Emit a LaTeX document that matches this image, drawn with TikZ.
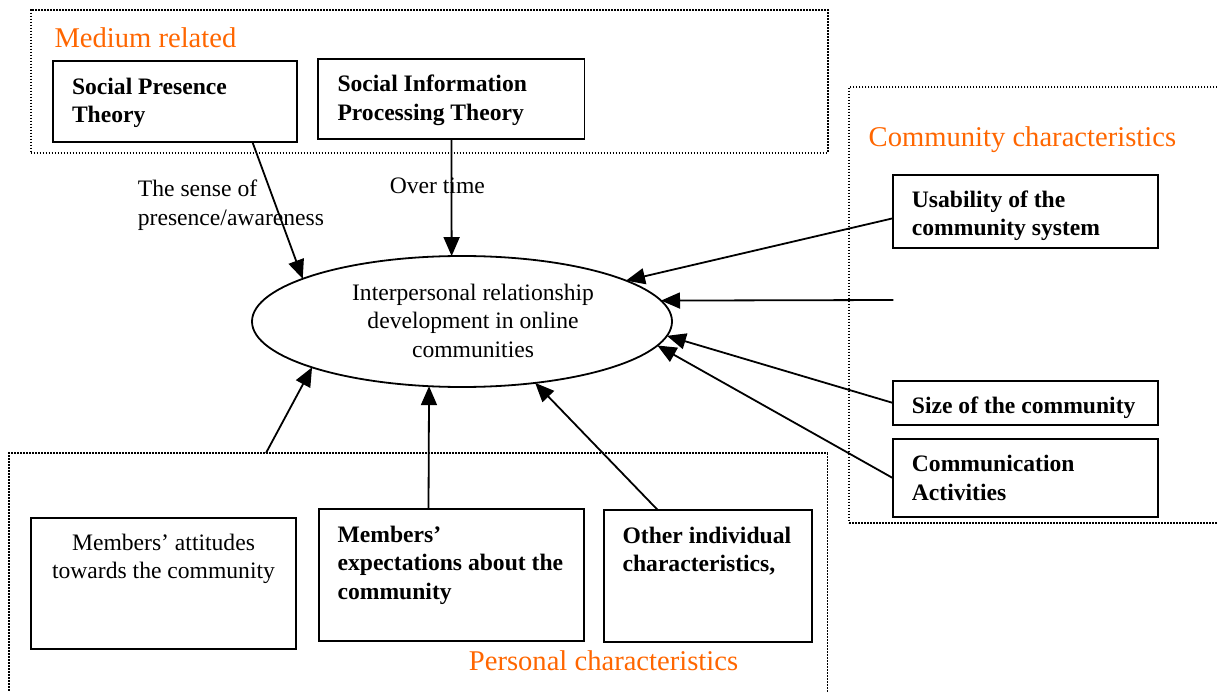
\documentclass[tikz,border=0pt]{standalone}
\usepackage{fontspec}
\setmainfont{Liberation Serif}
\usetikzlibrary{shapes.geometric,arrows.meta}
\definecolor{orng}{RGB}{255,102,0}
\begin{document}
\begin{tikzpicture}[x=1pt,y=-1pt,
  box/.style={draw, line width=1.8pt, rectangle, anchor=north west, inner sep=0pt, outer sep=0pt},
  grp/.style={draw, line width=1.8pt, dash pattern=on 1.6pt off 1.4pt, rectangle, anchor=north west, inner sep=0pt, outer sep=0pt},
  ntxt/.style={inner sep=0pt, font=\fontsize{23.6}{28.5}\selectfont},
  btxt/.style={inner sep=0pt, font=\fontsize{23.6}{28.5}\selectfont\bfseries, anchor=north west, align=left},
  otxt/.style={inner sep=0pt, font=\fontsize{28.6}{34}\selectfont, text=orng, anchor=base west},
  arr/.style={line width=1.8pt, -{Triangle[length=19pt,width=16pt]}},
]
\useasboundingbox (0,0) rectangle (1217,692);

% group frames
\node[grp, minimum width=797.3pt, minimum height=142.7pt] (med) at (30.7,10) {};
\node[grp, minimum width=380pt, minimum height=436pt] (cgrp) at (849.3,86.7) {};
\node[grp, minimum width=818.5pt, minimum height=260pt] (pers) at (9,453) {};

\node[otxt] (medlab) at (54.3,47.7) {Medium related};
\node[otxt] (comlab) at (868.5,146.7) {Community characteristics};
\node[otxt] (perlab) at (468.7,670) {Personal characteristics};

% boxes
\node[box, minimum width=243.4pt, minimum height=80.4pt] (spt) at (53.3,61.3) {};
\node[box, minimum width=266.2pt, minimum height=80.3pt] (sipt) at (318.3,58.7) {};
\node[box, minimum width=265pt, minimum height=73.3pt] (usab) at (892.7,174.7) {};
\node[box, minimum width=265pt, minimum height=44.3pt] (size) at (892.7,380.7) {};
\node[box, minimum width=265pt, minimum height=77.4pt] (comm) at (892.7,439.3) {};
\node[box, minimum width=265pt, minimum height=131.3pt] (att) at (31,517.7) {};
\node[box, minimum width=265.1pt, minimum height=131.7pt] (expc) at (318.7,509) {};
\node[box, minimum width=208.4pt, minimum height=131.7pt] (oth) at (603.6,510) {};

% box texts
\node[btxt] (spttx) at ([xshift=18.5pt,yshift=-12.7pt]spt.north west) {\strut Social Presence\\Theory};
\node[btxt] (sipttx) at ([xshift=19pt,yshift=-12.8pt]sipt.north west) {\strut Social Information\\Processing Theory};
\node[btxt] (usabtx) at ([xshift=19pt,yshift=-12.2pt]usab.north west) {\strut Usability of the\\community system};
\node[btxt] (sizetx) at ([xshift=19pt,yshift=-12.6pt]size.north west) {\strut Size of the community};
\node[btxt] (commtx) at ([xshift=19pt,yshift=-12.4pt]comm.north west) {\strut Communication\\Activities};
\node[ntxt, anchor=north, align=center] (atttx) at (163.5,530.2) {\strut Members' attitudes\\towards the community};
\node[btxt] (expctx) at ([xshift=18.7pt,yshift=-13pt]expc.north west) {\strut Members'\\expectations about the\\community};
\node[btxt] (othtx) at ([xshift=18.8pt,yshift=-13.3pt]oth.north west) {\strut Other individual\\characteristics,};

% central ellipse
\node[ellipse, draw, line width=1.8pt, minimum width=420pt, minimum height=131pt, inner sep=0pt, outer sep=0pt] (irel) at (462,321.5) {};
\node[ntxt, anchor=north, align=center] (ireltx) at (473,280.1) {\strut Interpersonal relationship\\development in online\\communities};

% labels on connectors
\node[ntxt, anchor=north west, align=left] (senselab) at (137.7,176.8) {\strut The sense of\\presence/awareness};
\node[ntxt, anchor=base west] (timelab) at (389.6,194) {Over time};

% connectors
\coordinate (hfree) at (893.3,300);
\draw[arr] ([xshift=77.3pt]spt.south) -- (irel.165.3);
\draw[arr] (sipt.south) -- (irel.99.3);
\draw[arr] ([yshift=-7pt]usab.west) -- (irel.14);
\draw[arr] (hfree) -- (irel.6);
\draw[arr] (size.west) -- (irel.-4.2);
\draw[arr] (comm.west) -- (irel.-7.35);
\draw[arr] ([xshift=257pt]pers.north west) -- (irel.197.9);
\draw[arr] ([xshift=-22.75pt]expc.north) -- (irel.243);
\draw[arr] ([xshift=-50.1pt]oth.north) -- (irel.-40.45);
\end{tikzpicture}
\end{document}
